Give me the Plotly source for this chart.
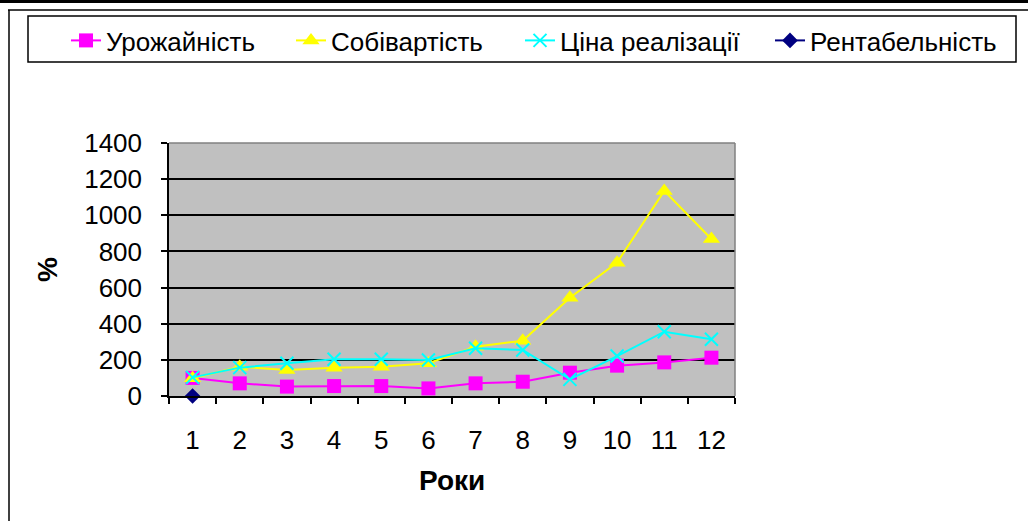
import plotly.graph_objects as go

years = ["1", "2", "3", "4", "5", "6", "7", "8", "9", "10", "11", "12"]
yield_vals = [100, 70, 52, 55, 55, 42, 70, 79, 129, 168, 186, 212]
cost_vals = [98, 162, 144, 157, 162, 181, 273, 306, 544, 738, 1135, 869]
price_vals = [103, 157, 181, 203, 203, 199, 264, 255, 92, 221, 356, 314]
profit_vals = [0, None, None, None, None, None, None, None, None, None, None, None]
y_ticks = [0, 200, 400, 600, 800, 1000, 1200, 1400]

W, H = 1028, 521
L, R, T, B = 169, 735, 143, 396
pw, ph = R - L, B - T

def px(x):
    return (x - L) / pw

def py(y):
    return (B - y) / ph

FONT = "Liberation Sans, Arial, sans-serif"

fig = go.Figure()
fig.add_trace(go.Scatter(x=years, y=yield_vals, name="Урожайність", mode="lines+markers",
                         line=dict(color="#FF00FF", width=2), legend="legend",
                         marker=dict(symbol="square", size=14, color="#FF00FF"), cliponaxis=False))
fig.add_trace(go.Scatter(x=years, y=cost_vals, name="Собівартість", mode="lines+markers",
                         line=dict(color="#FFFF00", width=2), legend="legend2",
                         marker=dict(symbol="triangle-up", size=15, color="#FFFF00"), cliponaxis=False))
fig.add_trace(go.Scatter(x=years, y=price_vals, name="Ціна реалізації", mode="lines+markers",
                         line=dict(color="#00FFFF", width=2), legend="legend3",
                         marker=dict(symbol="x-thin-open", size=13, color="#00FFFF",
                                     line=dict(color="#00FFFF", width=2)), cliponaxis=False))
fig.add_trace(go.Scatter(x=years, y=profit_vals, name="Рентабельність", mode="lines+markers",
                         line=dict(color="#000080", width=2), legend="legend4",
                         marker=dict(symbol="diamond", size=12, color="#000080"), cliponaxis=False))

shapes = [
    dict(type="rect", xref="paper", yref="paper", x0=px(0), x1=px(W), y0=py(3), y1=py(0),
         fillcolor="black", line=dict(width=0), layer="above"),
    dict(type="line", xref="paper", yref="paper", x0=px(8), x1=px(W), y0=py(10), y1=py(10),
         line=dict(color="black", width=1.5), layer="above"),
    dict(type="line", xref="paper", yref="paper", x0=px(9), x1=px(9), y0=py(10), y1=py(H),
         line=dict(color="black", width=1.5), layer="above"),
    dict(type="line", xref="paper", yref="paper", x0=0, x1=1, y0=1, y1=1,
         line=dict(color="#808080", width=1.5), layer="above"),
    dict(type="line", xref="paper", yref="paper", x0=1, x1=1, y0=0, y1=1,
         line=dict(color="#808080", width=1.5), layer="above"),
    # legend box
    dict(type="rect", xref="paper", yref="paper", x0=px(28), x1=px(1016), y0=py(62), y1=py(16),
         fillcolor="white", line=dict(color="black", width=1.5), layer="below"),
]

annotations = [
    dict(text="<b>%</b>", xref="paper", yref="paper", x=px(47), y=py(270), showarrow=False,
         xanchor="center", yanchor="middle",
         textangle=-90, font=dict(size=28, color="black", family=FONT)),
    dict(text="<b>Роки</b>", xref="paper", yref="paper", x=px(452), y=py(480), showarrow=False,
         xanchor="center", yanchor="middle",
         font=dict(size=28, color="black", family=FONT)),
]

def leg(xpix):
    return dict(orientation="h", xref="paper", yref="paper",
                x=px(xpix), y=py(17), xanchor="left", yanchor="top",
                bgcolor="rgba(0,0,0,0)", borderwidth=0,
                font=dict(size=26, family=FONT, color="black"))

fig.update_layout(
    width=W, height=H,
    margin=dict(l=L, r=W - R, t=T, b=H - B, autoexpand=False),
    paper_bgcolor="white", plot_bgcolor="#C0C0C0",
    font=dict(family=FONT, size=26, color="black"),
    showlegend=True,
    legend=leg(66), legend2=leg(291), legend3=leg(520), legend4=leg(770),
    shapes=shapes, annotations=annotations,
    xaxis=dict(type="category", range=[-0.5, 11.5], tickson="boundaries", ticks="outside", ticklen=6,
               tickcolor="black", tickwidth=1.5, showline=True, linecolor="black", linewidth=1.5,
               showgrid=False, ticklabelstandoff=20, tickfont=dict(size=26)),
    yaxis=dict(range=[0, 1400], tickvals=y_ticks, ticks="outside", ticklen=6,
               tickcolor="black", tickwidth=1.5, showline=True, linecolor="black", linewidth=1.5,
               showgrid=True, gridcolor="black", gridwidth=1.5, zeroline=False,
               ticklabelstandoff=14, tickfont=dict(size=26)),
)

fig.write_html("out.html", post_script="document.body.style.margin='0';",
               config={"displayModeBar": False})
